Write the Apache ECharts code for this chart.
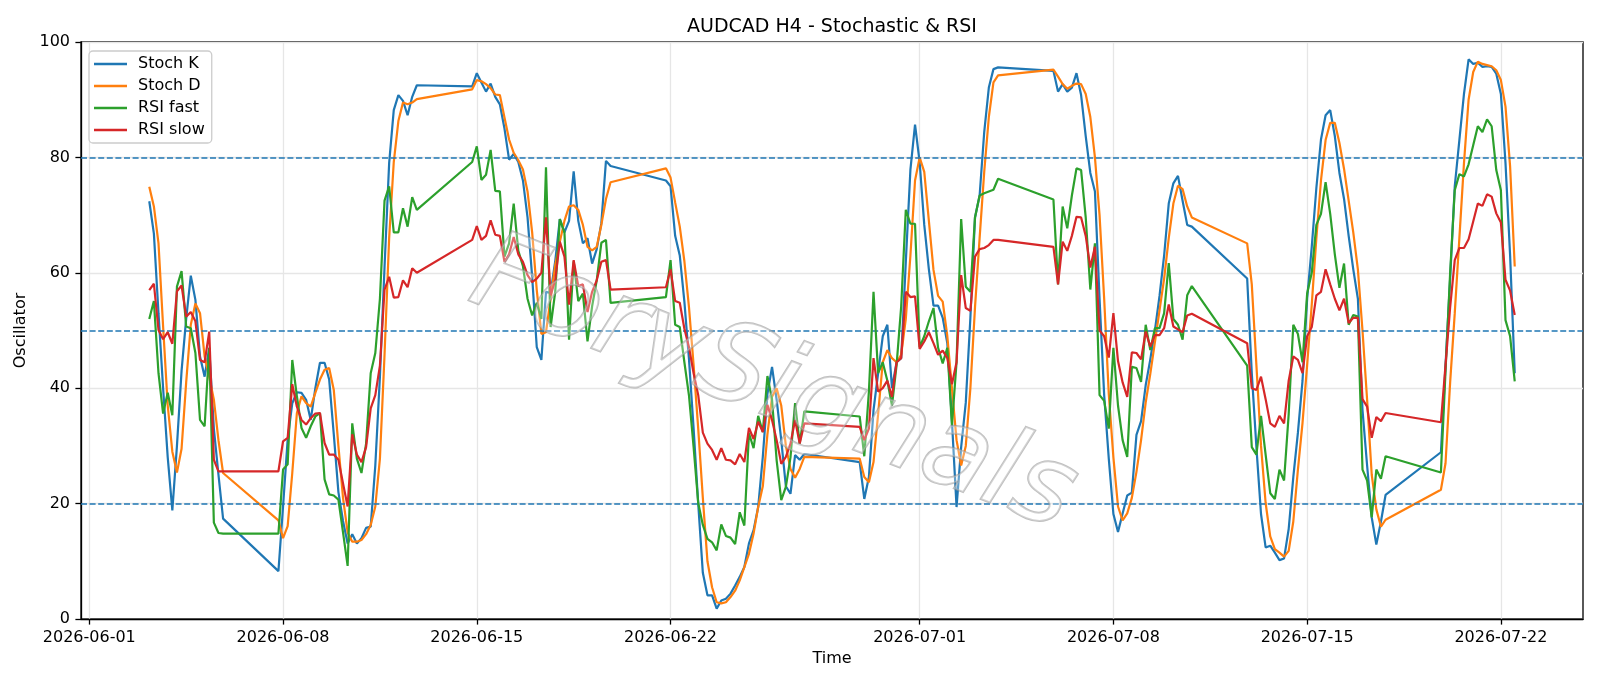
<!DOCTYPE html>
<html>
<head>
<meta charset="utf-8">
<title>AUDCAD H4 - Stochastic & RSI</title>
<script src="https://cdn.jsdelivr.net/npm/echarts@6/dist/echarts.min.js"></script>
<style>
    html, body { margin: 0; padding: 0; background: #ffffff; }
    #main { width: 1600px; height: 686px; }
</style>
</head>
<body>
<div id="main"></div>
<script>
// H4 bar times of 2026 (MM-DD HH), no bars over the weekends
var barTimes = [
    '06-03 04', '06-03 08', '06-03 12', '06-03 16', '06-03 20',
    '06-04 00', '06-04 04', '06-04 08', '06-04 12', '06-04 16', '06-04 20',
    '06-05 00', '06-05 04', '06-05 08', '06-05 12', '06-05 16', '06-05 20',
    '06-07 20',
    '06-08 00', '06-08 04', '06-08 08', '06-08 12', '06-08 16', '06-08 20',
    '06-09 00', '06-09 04', '06-09 08', '06-09 12', '06-09 16', '06-09 20',
    '06-10 00', '06-10 04', '06-10 08', '06-10 12', '06-10 16', '06-10 20',
    '06-11 00', '06-11 04', '06-11 08', '06-11 12', '06-11 16', '06-11 20',
    '06-12 00', '06-12 04', '06-12 08', '06-12 12', '06-12 16', '06-12 20',
    '06-14 20',
    '06-15 00', '06-15 04', '06-15 08', '06-15 12', '06-15 16', '06-15 20',
    '06-16 00', '06-16 04', '06-16 08', '06-16 12', '06-16 16', '06-16 20',
    '06-17 00', '06-17 04', '06-17 08', '06-17 12', '06-17 16', '06-17 20',
    '06-18 00', '06-18 04', '06-18 08', '06-18 12', '06-18 16', '06-18 20',
    '06-19 00', '06-19 04', '06-19 08', '06-19 12', '06-19 16', '06-19 20',
    '06-21 20',
    '06-22 00', '06-22 04', '06-22 08', '06-22 12', '06-22 16', '06-22 20',
    '06-23 00', '06-23 04', '06-23 08', '06-23 12', '06-23 16', '06-23 20',
    '06-24 00', '06-24 04', '06-24 08', '06-24 12', '06-24 16', '06-24 20',
    '06-25 00', '06-25 04', '06-25 08', '06-25 12', '06-25 16', '06-25 20',
    '06-26 00', '06-26 04', '06-26 08', '06-26 12', '06-26 16', '06-26 20',
    '06-28 20',
    '06-29 00', '06-29 04', '06-29 08', '06-29 12', '06-29 16', '06-29 20',
    '06-30 00', '06-30 04', '06-30 08', '06-30 12', '06-30 16', '06-30 20',
    '07-01 00', '07-01 04', '07-01 08', '07-01 12', '07-01 16', '07-01 20',
    '07-02 00', '07-02 04', '07-02 08', '07-02 12', '07-02 16', '07-02 20',
    '07-03 00', '07-03 04', '07-03 08', '07-03 12', '07-03 16', '07-03 20',
    '07-05 20',
    '07-06 00', '07-06 04', '07-06 08', '07-06 12', '07-06 16', '07-06 20',
    '07-07 00', '07-07 04', '07-07 08', '07-07 12', '07-07 16', '07-07 20',
    '07-08 00', '07-08 04', '07-08 08', '07-08 12', '07-08 16', '07-08 20',
    '07-09 00', '07-09 04', '07-09 08', '07-09 12', '07-09 16', '07-09 20',
    '07-10 00', '07-10 04', '07-10 08', '07-10 12', '07-10 16', '07-10 20',
    '07-12 20',
    '07-13 00', '07-13 04', '07-13 08', '07-13 12', '07-13 16', '07-13 20',
    '07-14 00', '07-14 04', '07-14 08', '07-14 12', '07-14 16', '07-14 20',
    '07-15 00', '07-15 04', '07-15 08', '07-15 12', '07-15 16', '07-15 20',
    '07-16 00', '07-16 04', '07-16 08', '07-16 12', '07-16 16', '07-16 20',
    '07-17 00', '07-17 04', '07-17 08', '07-17 12', '07-17 16', '07-17 20',
    '07-19 20',
    '07-20 00', '07-20 04', '07-20 08', '07-20 12', '07-20 16', '07-20 20',
    '07-21 00', '07-21 04', '07-21 08', '07-21 12', '07-21 16', '07-21 20',
    '07-22 00', '07-22 04', '07-22 08', '07-22 12'
];

var stochK = [
    72.4, 66.8, 53, 40, 28, 18.8, 30, 43, 52, 59.5, 55.3, 45.5, 42, 47, 33, 25, 17.4,
    8.3, 19.5, 31.1, 37.4, 39.3, 39.2, 38, 34.5, 40, 44.4, 44.4, 41.5, 32, 22, 17, 13.1,
    14.7, 13.1, 14, 15.8, 16, 26.6, 42, 61, 79, 88.2, 90.8, 89.8, 87.3, 90.5, 92.5,
    92.3, 94.6, 93, 91.4, 92.8, 90.5, 89.2, 85, 79.6, 80.6, 79.2, 76, 69.6, 59.3, 47.1, 44.9,
    56.7, 56.5, 62, 69.3, 67, 69, 77.6, 69, 65.1, 66, 61.6, 64.1, 68.6, 79.4, 78.5,
    76, 75, 66.4, 63, 55, 45, 33, 20, 8, 4.1, 4.1, 1.8, 3.2, 3.5, 4.4, 5.8,
    7.3, 9, 13.1, 15.4, 19.4, 28.1, 39, 43.7, 38, 31, 23, 21.7, 28.4, 27.6, 28.6,
    27.2, 20.8, 24.6, 36.2, 42.6, 49, 51, 40, 44.5, 45.2, 61.9, 77.9, 85.7, 79.2, 68.3, 60.6,
    54.3, 54.3, 52.2, 47.8, 34.3, 19.4, 29.8, 37.5, 52.2, 69.6, 73.4, 84.4, 92.1, 95.3, 95.6,
    95, 91.4, 92.7, 91.4, 92.1, 94.6, 90.8, 83.7, 77.3, 74.1, 55.5, 38.8, 27.8, 18.2, 15.1, 18.3,
    21.4, 21.9, 31.9, 34.3, 40.5, 45, 50, 56, 63, 72, 75.5, 76.8, 72.5, 68.3, 68,
    59, 42.6, 29.8, 18.2, 12.4, 12.7, 11.5, 10.2, 10.5, 15.6, 24.6, 32.3, 41.3, 55.5, 64.5, 74.7,
    83.1, 87.3, 88.2, 83.7, 77.3, 72.8, 66.4, 60.6, 55.5, 36.2, 26.6, 17.6, 12.9, 16.9, 21.5,
    28.9, 44, 59, 75, 83, 91, 97, 96.2, 96.4, 95.7, 95.8, 95.7, 94.5, 91, 79, 63, 42.6
];

var stochD = [
    74.9, 71.5, 65.1, 50.7, 37, 29, 25.4, 29.5, 41, 51, 54.7, 53, 45.5, 42, 38, 31, 25.3,
    17.1, 14, 16.1, 25.3, 35.7, 38.6, 37.4, 36.8, 39.2, 41.5, 43.2, 43.5, 39.7, 30, 21, 15,
    13.4, 13.4, 13.7, 14.7, 16.3, 19.5, 27.8, 45.8, 66, 79.2, 86.3, 89.5, 89.2, 89.5, 90.1,
    91.8, 93.4, 93.2, 92.7, 92, 90.9, 90.8, 86.9, 83.1, 80.8, 79.5, 77.9, 74.1, 67, 57, 49.4,
    49.7, 55.5, 61.3, 65.4, 69, 71.5, 71.7, 70.9, 68.3, 64.5, 63.9, 64.5, 68.3, 72.8, 75.7,
    78.1, 76.5, 72.2, 68, 62, 54, 44, 33, 21, 10, 5.5, 2.9, 2.7, 2.9, 3.8, 4.9,
    6.7, 9, 11.3, 14.8, 19.4, 23, 32, 38.5, 40, 37, 30, 26, 24.5, 26, 28.1,
    27.8, 24.6, 23.7, 27.2, 35.5, 44.5, 46.6, 45.2, 44.5, 45.8, 52, 63, 76, 80, 77.5, 69,
    60.5, 56, 55, 49, 40, 31, 26.6, 30, 40, 54, 66, 77.5, 87, 93, 94.2,
    95.2, 94, 92.7, 91.9, 92.4, 92.8, 92.7, 91, 87, 80, 70, 55.5, 39, 28, 19.5, 17.1,
    18.3, 21, 25.5, 31, 37.5, 42.5, 48, 53.5, 59, 66, 72, 75.1, 74.5, 71.5, 69.6,
    65.1, 58, 44, 30, 20.1, 14.3, 12.1, 11.5, 10.8, 11.8, 16.9, 25.9, 34, 44, 54.5, 66,
    76, 83, 86, 86, 82.5, 78, 72.5, 67, 60.6, 50, 38, 25, 19, 16, 17.2,
    22.4, 27, 41, 53, 66, 79, 90, 94.8, 96.6, 96.2, 96, 95.8, 95.1, 93.4, 88.8, 78.4, 61.1
];

var rsiFast = [
    52, 55.1, 42.6, 35.6, 39.2, 35.3, 57.6, 60.3, 50.7, 50.4, 46.1, 34.5, 33.4, 47, 16.7, 14.9, 14.8,
    14.8, 25.9, 26.8, 44.9, 38.6, 33.1, 31.4, 33.4, 35.1, 35.7, 24.2, 21.6, 21.4, 20.7, 15, 9.2,
    33.9, 27.8, 25.3, 30.4, 42.6, 46.1, 55.5, 72.5, 75, 67, 67, 71.2, 68, 73.1, 70.9,
    79.2, 81.9, 76.1, 77, 81.3, 74.2, 74.1, 62.8, 65.1, 72, 63.8, 61.2, 55.5, 52.6, 54.8, 52,
    78.3, 50.6, 56.7, 69.3, 67, 48.4, 62, 55.1, 56.4, 48.1, 54.2, 58.7, 65.2, 65.7, 54.8,
    55.8, 62.2, 51, 50.6, 44.5, 38.7, 29.8, 20.1, 16.3, 13.9, 13.3, 11.9, 16.4, 14.4, 14.1, 13,
    18.5, 16.2, 32.2, 29.6, 35.2, 32.4, 42.1, 38, 27.5, 20.6, 22.9, 28, 37.4, 30.4, 36,
    35.1, 28.2, 39.4, 56.7, 42.6, 44.5, 41.3, 37, 44, 54.2, 70.9, 68.5, 68.5, 47.1, 49, 51.6,
    53.9, 47, 44.3, 47, 33.6, 44.5, 69.3, 57.6, 56.7, 69.6, 73.4, 73.8, 74.1, 74.4, 76.3,
    72.7, 58, 71.5, 67.7, 73.4, 78.1, 77.8, 69.6, 57.1, 65.1, 38.8, 37.8, 33, 47, 37, 31,
    28.1, 43.7, 43.5, 41.1, 51, 46.6, 50.4, 50.4, 53, 61.7, 52, 51, 48.4, 56.1, 57.7,
    43.9, 29.8, 28.5, 35.2, 28.5, 21.8, 20.8, 25.9, 24, 35.5, 51, 49.4, 44.5, 56.4, 60, 68.3,
    70.2, 75.7, 70.2, 63.2, 57.4, 61.6, 51, 52.7, 52.4, 25.9, 24, 17.6, 25.9, 24.3, 28.2,
    25.4, 43, 60, 74.3, 77.1, 76.7, 78.8, 82.1, 85.4, 84.4, 86.6, 85.4, 77.8, 74.3, 51.8, 49, 41.2
];

var rsiSlow = [
    57, 58.1, 50.1, 48.5, 49.7, 47.7, 56.8, 57.8, 52.4, 53.2, 51.6, 44.9, 44.5, 49.8, 27.6, 25.6, 25.6,
    25.6, 30.8, 31.4, 40.7, 36.8, 34.5, 33.7, 34.8, 35.6, 35.7, 30.5, 28.5, 28.5, 27.6, 23.5, 19.5,
    32, 28.5, 27.2, 29.8, 36.5, 38.8, 43.9, 57.1, 59.3, 55.7, 55.8, 58.7, 57.5, 60.8, 60,
    65.7, 68.1, 65.7, 66.4, 69.1, 66.6, 66.4, 61.9, 63.2, 66.2, 63.2, 61.9, 59.6, 58.4, 59, 60,
    69.6, 56.1, 58.7, 65.4, 62.8, 54.5, 62.2, 57.7, 58, 53.2, 56.7, 58.7, 61.9, 62.2, 57.1,
    57.5, 60.6, 55.1, 54.8, 50.3, 47.1, 42.6, 38.8, 32.3, 30.4, 29.3, 27.6, 29.6, 27.6, 27.5, 26.8,
    28.6, 27.2, 33.1, 31.2, 34.2, 32.4, 37.1, 34.5, 31, 26.9, 28.1, 30.4, 34.5, 30.4, 33.9,
    33.3, 31, 33, 45.2, 39.4, 40, 41.3, 38.5, 44.5, 45.2, 56.7, 55.8, 55.9, 46.8, 48.1, 49.7,
    47.8, 45.8, 46.5, 45.2, 40.7, 44.5, 59.6, 53.9, 53.4, 62.8, 64.1, 64.3, 64.8, 65.7, 65.7,
    64.5, 58, 65.4, 63.8, 66.4, 69.7, 69.6, 66.4, 60.9, 64.5, 50, 49, 45.3, 53, 44.7, 41,
    38.5, 46.2, 46.1, 45, 49.8, 47.2, 49.2, 49.2, 50.4, 54.5, 50.7, 50.2, 49.7, 52.6, 52.9,
    47.8, 40, 39.7, 42, 38.1, 33.9, 33.3, 35.2, 33.9, 41.3, 45.5, 44.9, 42.6, 49, 50.6, 56.1,
    56.7, 60.6, 58, 55.5, 53.5, 55.5, 51.3, 52.2, 52.2, 38.1, 36.8, 31.4, 35, 34.3, 35.7,
    34.1, 44, 54, 62.2, 64.3, 64.3, 65.8, 68.9, 72, 71.6, 73.6, 73.2, 70.3, 68.7, 58.8, 56.9, 52.7
];

var seriesNames = ['Stoch K', 'Stoch D', 'RSI fast', 'RSI slow'];
var seriesColors = ['#1f77b4', '#ff7f0e', '#2ca02c', '#d62728'];
var levels = [80, 50, 20];                 // 超买 / 中线 / 超卖
var tickDates = ['2026-06-01', '2026-06-08', '2026-06-15', '2026-06-22',
                 '2026-07-01', '2026-07-08', '2026-07-15', '2026-07-22'];

var FONT = 'DejaVu Sans';

function barTime(s)
{
    return new Date(2026, +s.slice(0, 2) - 1, +s.slice(3, 5), +s.slice(6, 8)).getTime();
}
function dayTime(s)
{
    return new Date(+s.slice(0, 4), +s.slice(5, 7) - 1, +s.slice(8, 10)).getTime();
}

var times = barTimes.map(barTime);
var tickValues = tickDates.map(dayTime);
// matplotlib style 5% margin on both sides
var span = times[times.length - 1] - times[0];
var xMin = times[0] - span * 0.05;
var xMax = times[times.length - 1] + span * 0.05;

function pairs(vals)
{
    return vals.map(function (v, i) { return [times[i], v]; });
}

var valueLists = [stochK, stochD, rsiFast, rsiSlow];
var series = valueLists.map(function (vals, k) {
    return {
        name: seriesNames[k],
        type: 'line',
        data: pairs(vals),
        showSymbol: false,
        symbol: 'none',
        color: seriesColors[k],
        lineStyle: { width: 2.2, color: seriesColors[k] },
        z: 3 + k
    };
});

// dashed level lines
series[0].markLine = {
    silent: true,
    symbol: ['none', 'none'],
    label: { show: false },
    lineStyle: { color: '#1f77b4', width: 1.6, type: [6, 2.6] },
    data: levels.map(function (v) { return { yAxis: v }; })
};

var myChart = echarts.init(document.getElementById('main'), null, { renderer: 'canvas' });
myChart.setOption({
    animation: false,
    backgroundColor: '#ffffff',
    title: {
        text: 'AUDCAD H4 - Stochastic & RSI',
        left: 832,
        top: 18,
        padding: 0,
        textAlign: 'center',
        textStyle: { fontFamily: FONT, fontSize: 19, fontWeight: 'normal', color: '#000' }
    },
    legend: {
        orient: 'vertical',
        left: 89,
        top: 51,
        padding: [5, 7, 5, 5],
        icon: 'rect',
        itemWidth: 33,
        itemHeight: 2.4,
        itemGap: 6,
        backgroundColor: 'rgba(255,255,255,0.8)',
        borderColor: '#cccccc',
        borderWidth: 1.3,
        borderRadius: 4,
        textStyle: { fontFamily: FONT, fontSize: 16, color: '#000', padding: [0, 0, 0, 6] },
        data: seriesNames
    },
    grid: {
        left: 81,
        right: 17,
        top: 42,
        bottom: 67,
        show: true,
        borderColor: '#000',
        borderWidth: 1.3,
        backgroundColor: 'transparent'
    },
    graphic: [{
        type: 'text',
        left: 455,
        top: 220,
        rotation: -0.37,
        silent: true,
        z: 100,
        style: {
            text: 'ForySignals',
            font: 'italic 110px "DejaVu Sans"',
            fill: 'rgba(255,255,255,0.3)',
            stroke: 'rgba(150,150,150,0.6)',
            lineWidth: 2,
            shadowColor: 'rgba(0,0,0,0.22)',
            shadowBlur: 3,
            shadowOffsetX: 4,
            shadowOffsetY: 4
        }
    }],
    xAxis: {
        type: 'value',
        min: xMin,
        max: xMax,
        name: 'Time',
        nameLocation: 'middle',
        nameGap: 30,
        nameTextStyle: { fontFamily: FONT, fontSize: 16, color: '#000' },
        axisLine: { show: true, onZero: false, lineStyle: { color: '#000', width: 1.3 } },
        axisTick: { show: true, customValues: tickValues, length: 5.6, lineStyle: { color: '#000', width: 1.3 } },
        axisLabel: {
            show: true,
            customValues: tickValues,
            margin: 11,
            fontFamily: FONT,
            fontSize: 16,
            color: '#000',
            formatter: function (v) {
                var i = tickValues.indexOf(v);
                return i >= 0 ? tickDates[i] : '';
            }
        },
        splitLine: { show: true, lineStyle: { color: '#e6e6e6', width: 1.3 } }
    },
    yAxis: {
        type: 'value',
        min: 0,
        max: 100,
        interval: 20,
        name: 'Oscillator',
        nameLocation: 'middle',
        nameGap: 43,
        nameRotate: 90,
        nameTextStyle: { fontFamily: FONT, fontSize: 16, color: '#000' },
        axisLine: { show: true, lineStyle: { color: '#000', width: 1.3 } },
        axisTick: { show: true, length: 5.6, lineStyle: { color: '#000', width: 1.3 } },
        axisLabel: { margin: 11, fontFamily: FONT, fontSize: 16, color: '#000' },
        splitLine: { show: true, lineStyle: { color: '#e6e6e6', width: 1.3 } }
    },
    series: series
});
</script>
</body>
</html>
